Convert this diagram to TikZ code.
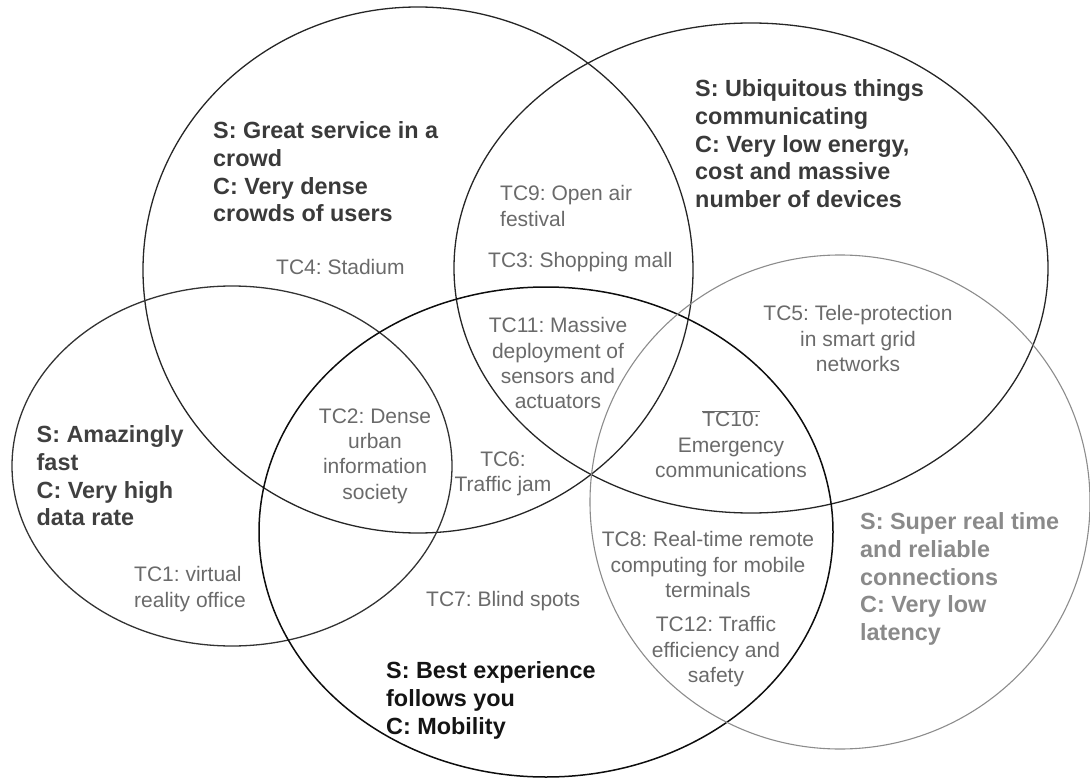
\documentclass[tikz,border=0pt]{standalone}
\usepackage{fontspec}
\setmainfont{Liberation Sans}
\frenchspacing
\definecolor{ringdark}{HTML}{262626}
\definecolor{ringgrey}{HTML}{8C8C8C}
\definecolor{scendark}{HTML}{3A3A3A}
\definecolor{scengrey}{HTML}{8A8A8A}
\definecolor{tcgrey}{HTML}{6A6A6A}
\begin{document}
\begin{tikzpicture}[x=1pt,y=-1pt,
    ring/.style={line width=1.3pt, draw=ringdark},
    scen/.style={inner sep=0pt, anchor=north west, align=left, text=scendark,
      font=\fontsize{23.4}{27.7}\selectfont\bfseries},
    tc/.style={inner sep=0pt, anchor=north, align=center, text=tcgrey,
      font=\fontsize{21}{25.3}\selectfont}]
  \useasboundingbox (0,0) rectangle (1090,778);
  % the five scenario ellipses
  \draw[ring] (418,270) ellipse [x radius=275, y radius=263];
  \draw[ring, draw=black!80] (232,466) ellipse [x radius=220, y radius=180];
  \draw[ring] (751,268) ellipse [x radius=297, y radius=245];
  \draw[ring, draw=black!95, line width=1.5pt] (546,532) ellipse [x radius=287, y radius=245];
  \draw[ring, draw=ringgrey, line width=1.1pt] (840,502) ellipse [x radius=250, y radius=247];
  % scenarios and challenges
  \node[scen] (crowd) at (213,121.5) {S: Great service in a\\crowd\\C: Very dense\\crowds of users};
  \node[scen] (things) at (695,79.5) {S: Ubiquitous things\\communicating\\C: Very low energy,\\cost and massive\\number of devices};
  \node[scen, text=black!75] (fast) at (36.5,425.5) {S: Amazingly\\fast\\C: Very high\\data rate};
  \node[scen, text=black!92] (mobile) at (386,661.5) {S: Best experience\\follows you\\C: Mobility};
  \node[scen, text=scengrey] (realtime) at (860,512.5) {S: Super real time\\and reliable\\connections\\C: Very low\\latency};
  % test cases
  \node[tc, anchor=north west] (tc4) at (276,259.5) {TC4: Stadium};
  \node[tc, anchor=north west, align=left] (tc9) at (500,185.5) {TC9: Open air\\festival};
  \node[tc, anchor=north west] (tc3) at (488,252.5) {TC3: Shopping mall};
  \node[tc] (tc11) at (558,317.5) {TC11: Massive\\deployment of\\sensors and\\actuators};
  \node[tc] (tc5) at (858,305.5) {TC5: Tele-protection\\in smart grid\\networks};
  \node[tc] (tc2) at (375,408.5) {TC2: Dense\\urban\\information\\society};
  \node[tc] (tc6) at (503,451.5) {TC6:\\Traffic jam};
  \node[tc] (tc10) at (731,410) {$\overline{\mbox{TC10:}}$\\Emergency\\communications};
  \node[tc, anchor=north west, align=left] (tc1) at (134,566.5) {TC1: virtual\\reality office};
  \node[tc, anchor=north west] (tc7) at (426,591.5) {TC7: Blind spots};
  \node[tc] (tc8) at (708,531.5) {TC8: Real-time remote\\computing for mobile\\terminals};
  \node[tc] (tc12) at (716,616.5) {TC12: Traffic\\efficiency and\\safety};
\end{tikzpicture}
\end{document}
